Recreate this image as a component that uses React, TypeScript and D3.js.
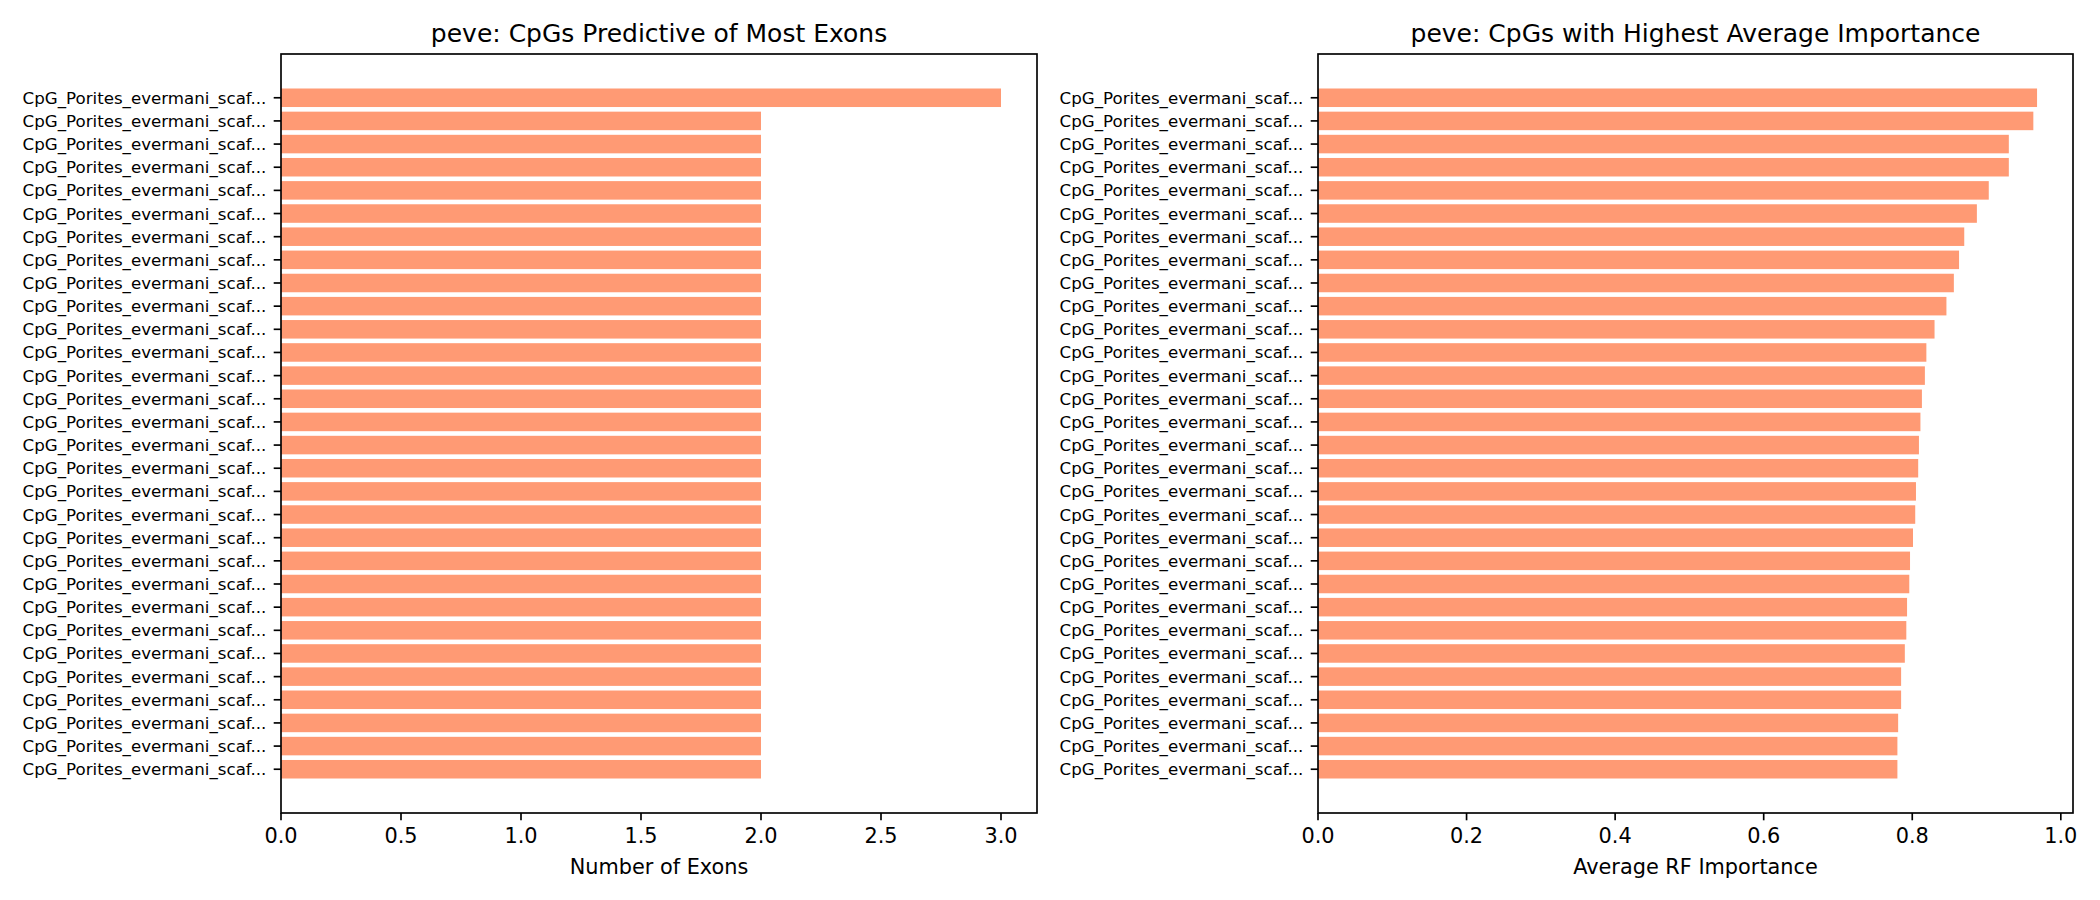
import * as d3 from "d3";

// one label per bar (all truncated the same way in the source)
const cpgLabel = "CpG_Porites_evermani_scaf...";

const exonCounts = [3, 2, 2, 2, 2, 2, 2, 2, 2, 2, 2, 2, 2, 2, 2, 2, 2, 2, 2, 2, 2, 2, 2, 2, 2, 2, 2, 2, 2, 2];

const importance = [
  0.968, 0.963, 0.930, 0.930, 0.903, 0.887, 0.870, 0.863, 0.856, 0.846,
  0.830, 0.819, 0.817, 0.813, 0.811, 0.809, 0.808, 0.805, 0.804, 0.801,
  0.797, 0.796, 0.793, 0.792, 0.790, 0.785, 0.785, 0.781, 0.780, 0.780,
];

const exonTicks = [0, 0.5, 1.0, 1.5, 2.0, 2.5, 3.0];
const importanceTicks = [0, 0.2, 0.4, 0.6, 0.8, 1.0];

const W = 2100;
const H = 900;
const TOP = 54;
const BOTTOM = 813;
const BAR = "#ff9a74";
const FONT = "DejaVu Sans, sans-serif";

type PanelProps = {
  left: number,
  right: number,
  values: number[],
  ticks: number[],
  title: string,
  xlabel: string,
};

function Panel({ left, right, values, ticks, title, xlabel }: PanelProps) {
  const n = values.length;
  const span = (n - 1) + 0.8;
  const pad = span * 0.05;
  const y = d3.scaleLinear()
    .domain([-0.4 - pad, n - 1 + 0.4 + pad])
    .range([TOP, BOTTOM]);
  const xmax = (d3.max(values) ?? 1) * 1.05;
  const x = d3.scaleLinear().domain([0, xmax]).range([left, right]);
  const tickLen = 7.3;

  return (
    <g>
      <text x={(left + right) / 2} y={41.5} textAnchor="middle" fontSize={25} fontFamily={FONT} fill="#000">
        {title}
      </text>

      {/* bars */}
      {values.map((v, i) => (
        <rect key={i} x={x(0)} y={y(i - 0.4)} width={x(v) - x(0)} height={y(i + 0.4) - y(i - 0.4)} fill={BAR} />
      ))}

      {/* y ticks */}
      {values.map((_, i) => (
        <g key={"yt" + i}>
          <line x1={left - tickLen} x2={left} y1={y(i)} y2={y(i)} stroke="#000" strokeWidth={1.67} />
          <text x={left - tickLen - 7.3} y={y(i)} dy="0.36em" textAnchor="end" fontSize={16.67} fontFamily={FONT} fill="#000">
            {cpgLabel}
          </text>
        </g>
      ))}

      {/* x ticks */}
      {ticks.map((t) => (
        <g key={"xt" + t}>
          <line x1={x(t)} x2={x(t)} y1={BOTTOM} y2={BOTTOM + tickLen} stroke="#000" strokeWidth={1.67} />
          <text x={x(t)} y={843} textAnchor="middle" fontSize={20.83} fontFamily={FONT} fill="#000">
            {t.toFixed(1)}
          </text>
        </g>
      ))}

      <text x={(left + right) / 2} y={874} textAnchor="middle" fontSize={20.83} fontFamily={FONT} fill="#000">
        {xlabel}
      </text>

      {/* frame */}
      <rect x={left} y={TOP} width={right - left} height={BOTTOM - TOP} fill="none" stroke="#000" strokeWidth={1.67} />
    </g>
  );
}

export default function App() {
  return (
    <svg width={W} height={H} style={{ position: "absolute", left: 0, top: 0, background: "#fff" }}>
      <rect width={W} height={H} fill="#fff" />
      <Panel
        left={281}
        right={1037}
        values={exonCounts}
        ticks={exonTicks}
        title="peve: CpGs Predictive of Most Exons"
        xlabel="Number of Exons"
      />
      <Panel
        left={1318}
        right={2073}
        values={importance}
        ticks={importanceTicks}
        title="peve: CpGs with Highest Average Importance"
        xlabel="Average RF Importance"
      />
    </svg>
  );
}
